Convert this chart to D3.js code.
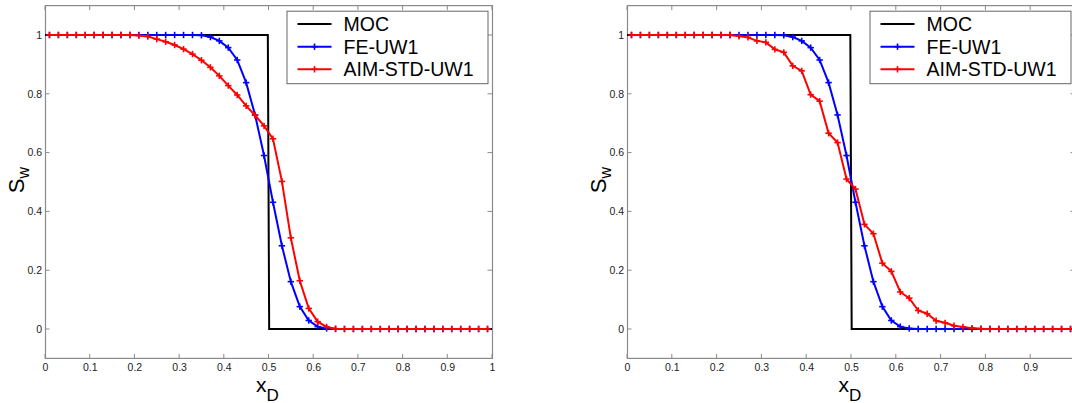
<!DOCTYPE html>
<html>
<head>
<meta charset="utf-8">
<script src="https://cdn.jsdelivr.net/npm/d3@7"></script>
<style>
  html, body { margin: 0; padding: 0; background: #fff; }
  svg { display: block; }
  text { font-family: "Liberation Sans", Arial, Helvetica, sans-serif; }
</style>
</head>
<body>
<svg id="chart" width="1072" height="403"></svg>
<script>
// Cell-centre positions of the 50-cell grid
const xD = [0.01, 0.03, 0.05, 0.07, 0.09, 0.11, 0.13, 0.15, 0.17, 0.19,
            0.21, 0.23, 0.25, 0.27, 0.29, 0.31, 0.33, 0.35, 0.37, 0.39,
            0.41, 0.43, 0.45, 0.47, 0.49, 0.51, 0.53, 0.55, 0.57, 0.59,
            0.61, 0.63, 0.65, 0.67, 0.69, 0.71, 0.73, 0.75, 0.77, 0.79,
            0.81, 0.83, 0.85, 0.87, 0.89, 0.91, 0.93, 0.95, 0.97, 0.99];

// Analytical (method of characteristics) shock profile
const mocX = [0, 0.4985, 0.5015, 1];
const mocS = [1, 1, 0, 0];

// Fully explicit first-order upwind
const feUW1 = [1, 1, 1, 1, 1, 1, 1, 1, 1, 1,
               1, 1, 1, 1, 1, 1, 1, 0.999, 0.993, 0.980,
               0.957, 0.915, 0.838, 0.728, 0.590, 0.431, 0.283, 0.161, 0.076, 0.029,
               0.008, 0.002, 0, 0, 0, 0, 0, 0, 0, 0,
               0, 0, 0, 0, 0, 0, 0, 0, 0, 0];

// Adaptive implicit, standard, first-order upwind (left panel)
const aimLeft = [1, 1, 1, 1, 1, 1, 1, 1, 1, 1,
                 0.998, 0.995, 0.986, 0.977, 0.966, 0.952, 0.935, 0.914, 0.890, 0.861,
                 0.828, 0.796, 0.759, 0.727, 0.691, 0.647, 0.502, 0.310, 0.164, 0.070,
                 0.025, 0.007, 0.001, 0, 0, 0, 0, 0, 0, 0,
                 0, 0, 0, 0, 0, 0, 0, 0, 0, 0];

// Adaptive implicit, standard, first-order upwind (right panel)
const aimRight = [1, 1, 1, 1, 1, 1, 1, 1, 1, 1,
                  1, 1, 0.996, 0.992, 0.980, 0.975, 0.951, 0.941, 0.895, 0.878,
                  0.797, 0.775, 0.666, 0.634, 0.510, 0.476, 0.356, 0.324, 0.224, 0.196,
                  0.126, 0.105, 0.063, 0.052, 0.028, 0.021, 0.011, 0.007, 0.003, 0.001,
                  0, 0, 0, 0, 0, 0, 0, 0, 0, 0];

const xTicksLeft = [0, 0.1, 0.2, 0.3, 0.4, 0.5, 0.6, 0.7, 0.8, 0.9, 1];
const xTicksRight = [0, 0.1, 0.2, 0.3, 0.4, 0.5, 0.6, 0.7, 0.8, 0.9];
const yTicks = [0, 0.2, 0.4, 0.6, 0.8, 1];
const legendNames = ["MOC", "FE-UW1", "AIM-STD-UW1"];
const seriesColors = ["#000000", "#0000ff", "#ff0000"];

const svg = d3.select("#chart");
const fmt = d => (d === 0 || d === 1) ? String(d) : d3.format(".1f")(d);

function panel(left, right, aim, xTicks) {
  const top = 5.6, bottom = 358.4;
  const x = d3.scaleLinear().domain([0, 1]).range([left, right]);
  const y = d3.scaleLinear().domain([-0.1, 1.1]).range([bottom, top]);
  const g = svg.append("g");
  const axisColor = "#8a8a8a";
  const tickLen = 4.5;

  // frame
  g.append("rect")
    .attr("x", left + 0.5).attr("y", top)
    .attr("width", right - left).attr("height", bottom - top)
    .attr("fill", "none").attr("stroke", axisColor).attr("stroke-width", 1.2);

  // inward ticks on all four sides
  const bottomAxis = d3.axisBottom(x).tickValues(xTicks).tickSize(0).tickFormat(fmt).tickPadding(0);
  const ax = g.append("g").attr("transform", `translate(0,${bottom})`).call(bottomAxis);
  ax.select(".domain").remove();
  ax.selectAll("text").attr("y", 13).attr("dy", 0)
    .attr("font-size", 10.5).attr("fill", "#222")
    .attr("font-family", "'Liberation Sans', Arial, sans-serif");

  const leftAxis = d3.axisLeft(y).tickValues(yTicks).tickSize(0).tickFormat(fmt).tickPadding(3);
  const ay = g.append("g").attr("transform", `translate(${left},0)`).call(leftAxis);
  ay.select(".domain").remove();
  ay.selectAll("text").attr("font-size", 10.5).attr("fill", "#222")
    .attr("font-family", "'Liberation Sans', Arial, sans-serif");

  const tk = g.append("g").attr("stroke", axisColor).attr("stroke-width", 1);
  xTicks.forEach(v => {
    tk.append("line").attr("x1", x(v)).attr("x2", x(v)).attr("y1", bottom).attr("y2", bottom - tickLen);
    tk.append("line").attr("x1", x(v)).attr("x2", x(v)).attr("y1", top).attr("y2", top + tickLen);
  });
  yTicks.forEach(v => {
    tk.append("line").attr("x1", left).attr("x2", left + tickLen).attr("y1", y(v)).attr("y2", y(v));
    tk.append("line").attr("x1", right).attr("x2", right - tickLen).attr("y1", y(v)).attr("y2", y(v));
  });

  // curves
  const line = d3.line().x(d => x(d[0])).y(d => y(d[1]));
  const moc = mocX.map((v, i) => [v, mocS[i]]);
  const fe = xD.map((v, i) => [v, feUW1[i]]);
  const am = xD.map((v, i) => [v, aim[i]]);

  g.append("path").datum(moc).attr("d", line)
    .attr("fill", "none").attr("stroke", seriesColors[0]).attr("stroke-width", 2);

  const plus = (sel, pts, color) => {
    sel.append("path").datum(pts).attr("d", line)
      .attr("fill", "none").attr("stroke", color).attr("stroke-width", 2);
    const m = sel.append("g").attr("stroke", color).attr("stroke-width", 1.6);
    pts.forEach(p => {
      const px = x(p[0]), py = y(p[1]), r = 3.2;
      m.append("line").attr("x1", px - r).attr("x2", px + r).attr("y1", py).attr("y2", py);
      m.append("line").attr("x1", px).attr("x2", px).attr("y1", py - r).attr("y2", py + r);
    });
  };
  plus(g, fe, seriesColors[1]);
  plus(g, am, seriesColors[2]);

  // axis titles
  const cx = (left + right) / 2;
  const xl = g.append("text").attr("x", cx - 1).attr("y", 391.5)
    .attr("text-anchor", "middle").attr("fill", "#000");
  xl.append("tspan").attr("font-size", 21).text("x");
  xl.append("tspan").attr("font-size", 17).attr("dy", 9).text("D");

  const yl = g.append("text")
    .attr("transform", `translate(${left - 21},${(top + bottom) / 2 - 2}) rotate(-90)`)
    .attr("text-anchor", "middle").attr("fill", "#000");
  yl.append("tspan").attr("font-size", 22).text("S");
  yl.append("tspan").attr("font-size", 16).attr("dy", 5).text("w");

  // legend
  const lw = 201, lh = 72.5;
  const lx = right - 4.5 - lw, ly = 10.7;
  const lg = g.append("g").attr("transform", `translate(${lx},${ly})`);
  lg.append("rect").attr("x", 0.5).attr("y", 0.5).attr("width", lw).attr("height", lh)
    .attr("fill", "#fff").attr("stroke", "#666").attr("stroke-width", 1);
  const rows = [13.3, 36, 58.6];
  legendNames.forEach((name, i) => {
    lg.append("line").attr("x1", 11).attr("x2", 45).attr("y1", rows[i]).attr("y2", rows[i])
      .attr("stroke", seriesColors[i]).attr("stroke-width", 2);
    if (i > 0) {
      lg.append("line").attr("x1", 28 - 3.2).attr("x2", 28 + 3.2).attr("y1", rows[i]).attr("y2", rows[i])
        .attr("stroke", seriesColors[i]).attr("stroke-width", 1.6);
      lg.append("line").attr("x1", 28).attr("x2", 28).attr("y1", rows[i] - 3.2).attr("y2", rows[i] + 3.2)
        .attr("stroke", seriesColors[i]).attr("stroke-width", 1.6);
    }
    lg.append("text").attr("x", 57).attr("y", rows[i]).attr("dy", "0.36em")
      .attr("font-size", 19.5).attr("fill", "#000").text(name);
  });
}

panel(45, 492, aimLeft, xTicksLeft);
panel(627, 1075, aimRight, xTicksRight);
</script>
</body>
</html>
